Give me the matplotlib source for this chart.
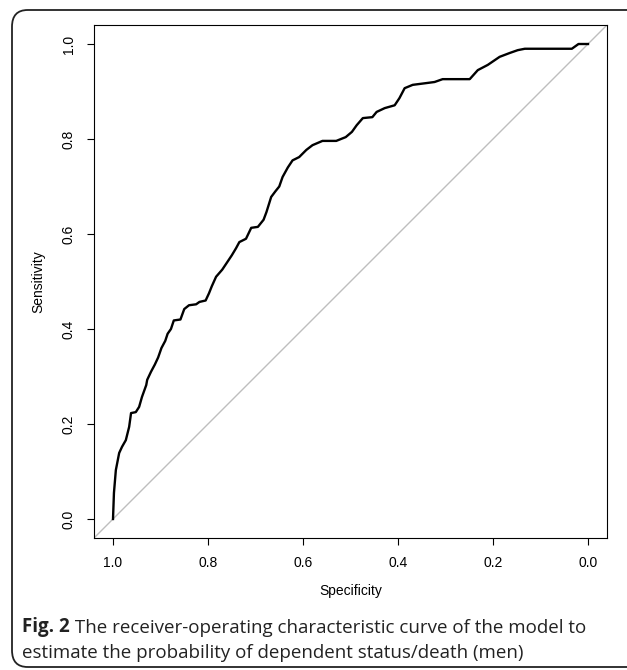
import numpy as np
import matplotlib.pyplot as plt
from matplotlib.patches import FancyBboxPatch

# ROC curve points
specificity = [1.0, 0.998, 0.994, 0.987, 0.981, 0.973, 0.966, 0.962, 0.952, 0.945,
               0.939, 0.930, 0.928, 0.92, 0.912, 0.905, 0.898, 0.89, 0.885, 0.878,
               0.872, 0.858, 0.85, 0.84, 0.825, 0.818, 0.805, 0.798, 0.792, 0.783,
               0.77, 0.76, 0.75, 0.741, 0.734, 0.72, 0.709, 0.695, 0.683, 0.677,
               0.667, 0.658, 0.65, 0.643, 0.632, 0.622, 0.608, 0.593, 0.58, 0.559,
               0.53, 0.51, 0.497, 0.487, 0.474, 0.454, 0.445, 0.428, 0.407, 0.397,
               0.386, 0.369, 0.338, 0.323, 0.306, 0.249, 0.232, 0.211, 0.186, 0.165,
               0.148, 0.133, 0.034, 0.02, 0.0]
sensitivity = [0.0, 0.055, 0.103, 0.139, 0.152, 0.166, 0.194, 0.223, 0.225, 0.236,
               0.257, 0.282, 0.293, 0.31, 0.325, 0.34, 0.36, 0.375, 0.39, 0.40,
               0.418, 0.42, 0.442, 0.45, 0.452, 0.457, 0.46, 0.475, 0.49, 0.51,
               0.525, 0.54, 0.555, 0.57, 0.583, 0.59, 0.613, 0.615, 0.63, 0.646,
               0.678, 0.69, 0.70, 0.72, 0.74, 0.755, 0.762, 0.777, 0.787, 0.796,
               0.796, 0.804, 0.815, 0.829, 0.844, 0.846, 0.857, 0.865, 0.871, 0.886,
               0.907, 0.914, 0.918, 0.92, 0.926, 0.926, 0.945, 0.956, 0.973, 0.981,
               0.987, 0.99, 0.99, 1.0, 1.0]
ticks = [0.0, 0.2, 0.4, 0.6, 0.8, 1.0]
tick_labels = ['0.0', '0.2', '0.4', '0.6', '0.8', '1.0']

plt.rcParams['font.family'] = ['Liberation Sans', 'DejaVu Sans']

fig = plt.figure(figsize=(6.27, 6.70), dpi=100)

# rounded frame around the whole figure
frame = FancyBboxPatch((12/627, 3/670), 640/627, 657/670,
                       boxstyle='round,pad=0,rounding_size=0.025',
                       transform=fig.transFigure, fill=False,
                       edgecolor='#222222', linewidth=1.3, clip_on=False)
fig.patches.append(frame)

ax = fig.add_axes([94/627, 1 - 538/670, 513/627, 513/670])

# chance diagonal
ax.axline((1, 0), (0, 1), color='#bebebe', linewidth=1)
ax.plot(specificity, sensitivity, color='black', linewidth=1.7)

ax.set_xlim(1.04, -0.04)
ax.set_ylim(-0.04, 1.04)
ax.set_xticks(ticks)
ax.set_xticklabels(tick_labels)
ax.set_yticks(ticks)
ax.set_yticklabels(tick_labels, rotation=90, va='center')
ax.tick_params(direction='out', length=5, width=0.8, labelsize=10, pad=8)
for s in ax.spines.values():
    s.set_linewidth(0.8)

ax.set_xlabel('Specificity', fontsize=10, labelpad=10)
ax.set_ylabel('Sensitivity', fontsize=10, labelpad=12)

# caption: bold figure number followed by regular text
cap = fig.text(22/627, 1 - 632/670, 'Fig. 2', fontsize=13.5, fontweight='bold',
               family='Open Sans', color='#222222', va='baseline')
ax.annotate(' The receiver-operating characteristic curve of the model to',
            xy=(1, 0), xycoords=cap, va='bottom', ha='left',
            fontsize=13.5, family='Open Sans', color='#222222',
            annotation_clip=False)
fig.text(22/627, 1 - 658/670,
         'estimate the probability of dependent status/death (men)',
         fontsize=13.5, family='Open Sans', color='#222222', va='baseline')

plt.savefig('out.png', dpi=100)
